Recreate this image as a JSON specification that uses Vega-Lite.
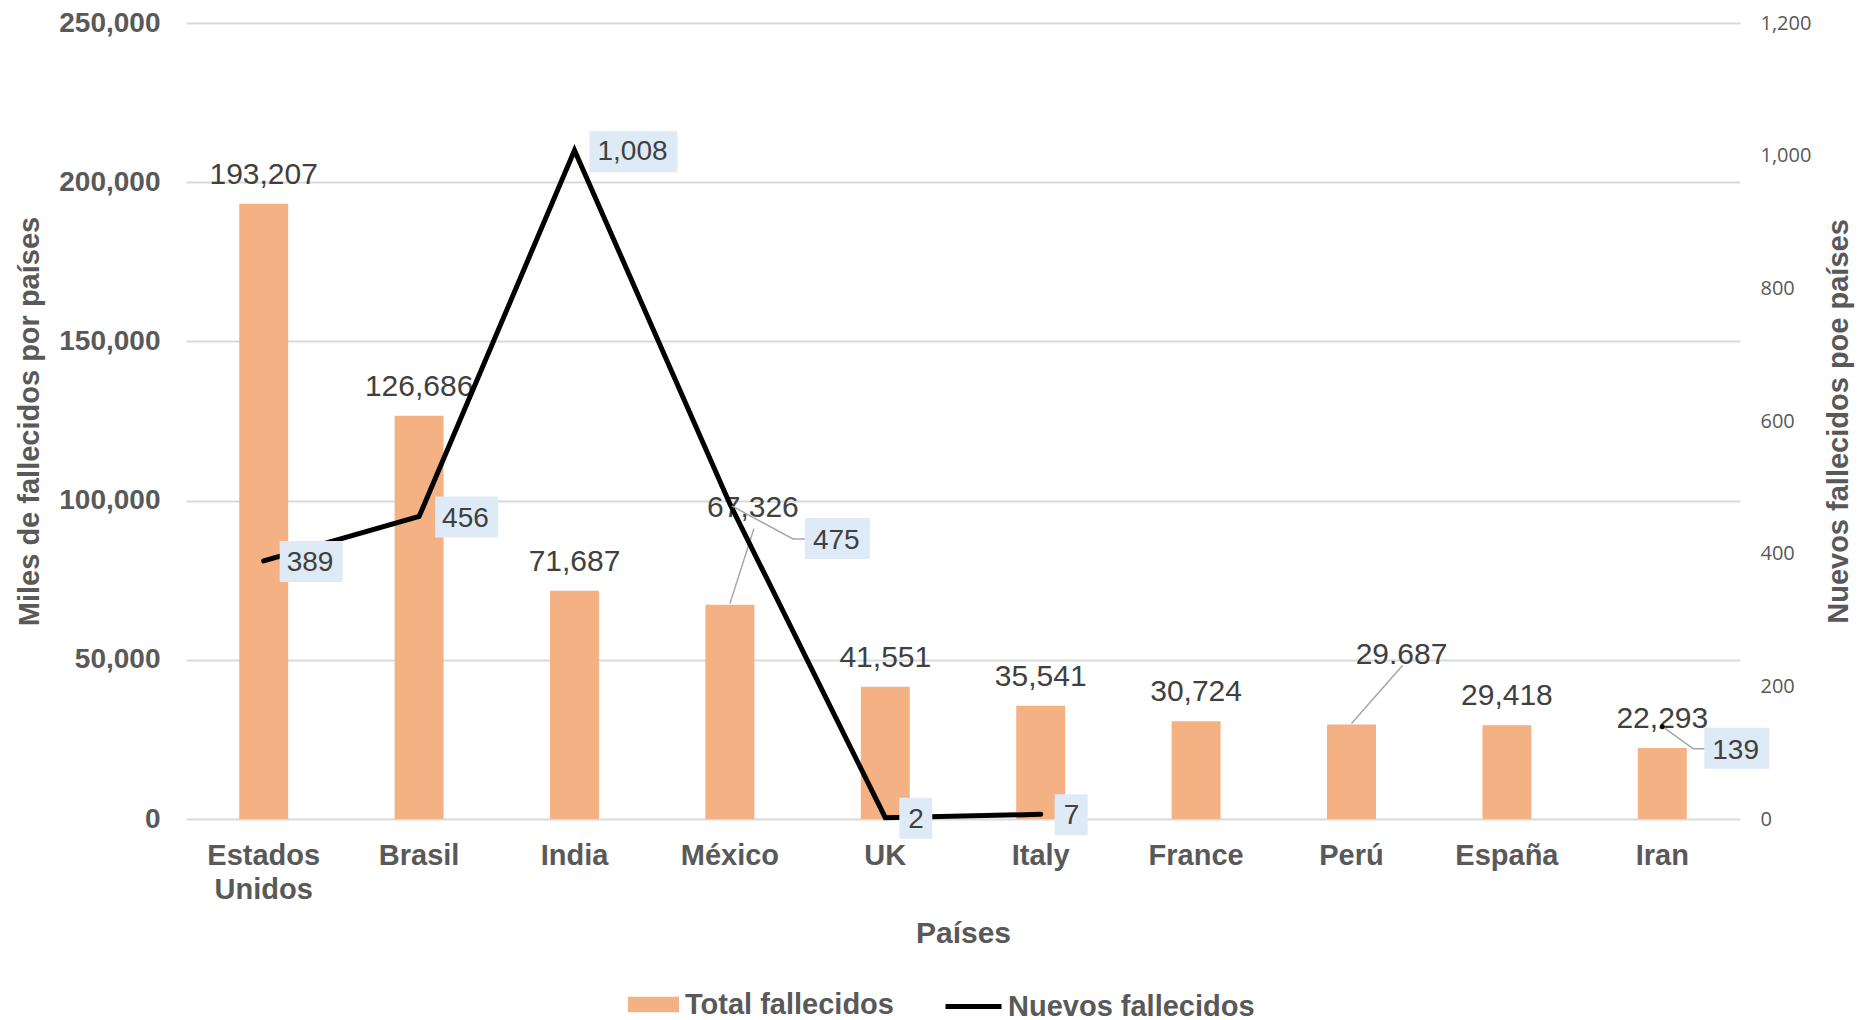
{
  "$schema": "https://vega.github.io/schema/vega-lite/v6.json",
  "width": 1554,
  "height": 796,
  "autosize": {"type": "none"},
  "padding": {"left": 186, "top": 23, "right": 122, "bottom": 201},
  "background": "white",
  "config": {"view": {"stroke": null}, "font": "Liberation Sans"},
  "data": {
    "values": [
      {"pais": "Estados Unidos", "total": 193207, "nuevos": 389, "etiqueta": "193,207"},
      {"pais": "Brasil", "total": 126686, "nuevos": 456, "etiqueta": "126,686"},
      {"pais": "India", "total": 71687, "nuevos": 1008, "etiqueta": "71,687"},
      {"pais": "México", "total": 67326, "nuevos": 475, "etiqueta": "67,326"},
      {"pais": "UK", "total": 41551, "nuevos": 2, "etiqueta": "41,551"},
      {"pais": "Italy", "total": 35541, "nuevos": 7, "etiqueta": "35,541"},
      {"pais": "France", "total": 30724, "nuevos": null, "etiqueta": "30,724"},
      {"pais": "Perú", "total": 29687, "nuevos": null, "etiqueta": "29.687"},
      {"pais": "España", "total": 29418, "nuevos": null, "etiqueta": "29,418"},
      {"pais": "Iran", "total": 22293, "nuevos": 139, "etiqueta": "22,293"}
    ]
  },
  "encoding": {
    "x": {
      "field": "pais",
      "type": "nominal",
      "sort": null,
      "scale": {"paddingInner": 0.685, "paddingOuter": 0.3425},
      "axis": {
        "labelAngle": 0,
        "labelFontSize": 29,
        "labelFontWeight": "bold",
        "labelColor": "#595959",
        "labelPadding": 22,
        "labelLineHeight": 34,
        "labelExpr": "datum.label == 'Estados Unidos' ? ['Estados', 'Unidos'] : datum.label",
        "domain": false,
        "ticks": false,
        "title": "Países",
        "titleFontSize": 30,
        "titleFontWeight": "bold",
        "titleColor": "#595959",
        "titlePadding": 14
      }
    }
  },
  "layer": [
    {
      "encoding": {
        "y": {
          "field": "total",
          "type": "quantitative",
          "scale": {"domain": [0, 250000]},
          "axis": {
            "values": [0, 50000, 100000, 150000, 200000, 250000],
            "format": ",.0f",
            "grid": true,
            "gridColor": "#D9D9D9",
            "gridWidth": 2,
            "domain": false,
            "ticks": false,
            "labelFontSize": 28,
            "labelFontWeight": "bold",
            "labelColor": "#595959",
            "labelPadding": 26,
            "title": "Miles de fallecidos por países",
            "titleFontSize": 29,
            "titleFontWeight": "bold",
            "titleColor": "#595959",
            "titlePadding": 14
          }
        }
      },
      "layer": [
        {
          "mark": {"type": "bar"},
          "encoding": {
            "fill": {
              "datum": "Total fallecidos",
              "type": "nominal",
              "scale": {"domain": ["Total fallecidos"], "range": ["#F4B183"]},
              "legend": {
                "orient": "none",
                "legendX": 442,
                "legendY": 956,
                "title": null,
                "padding": 0,
                "symbolType": "M-1,-0.3H1V0.3H-1Z",
                "symbolSize": 2601,
                "symbolStrokeWidth": 0,
                "labelFontSize": 29,
                "labelFontWeight": "bold",
                "labelColor": "#595959",
                "labelOffset": 6,
                "labelLimit": 400
              }
            }
          }
        },
        {
          "transform": [{"filter": {"field": "pais", "oneOf": ["Estados Unidos", "Brasil", "India", "UK", "Italy", "France", "España", "Iran"]}}],
          "mark": {"type": "text", "dy": -29, "fontSize": 30, "color": "#404040", "baseline": "middle", "align": "center"},
          "encoding": {"text": {"field": "etiqueta"}}
        },
        {
          "transform": [{"filter": {"field": "pais", "equal": "México"}}],
          "mark": {"type": "text", "dx": 23, "dy": -97, "fontSize": 30, "color": "#404040", "baseline": "middle", "align": "center"},
          "encoding": {"text": {"field": "etiqueta"}}
        },
        {
          "transform": [{"filter": {"field": "pais", "equal": "Perú"}}],
          "mark": {"type": "text", "dx": 50, "dy": -69, "fontSize": 30, "color": "#404040", "baseline": "middle", "align": "center"},
          "encoding": {"text": {"field": "etiqueta"}}
        },
        {
          "transform": [{"filter": {"field": "pais", "equal": "México"}}],
          "mark": {"type": "point", "shape": "M0,-1L24,-76", "size": 4, "filled": false, "stroke": "#A6A6A6", "strokeWidth": 1.5, "opacity": 1},
          "encoding": {}
        },
        {
          "transform": [{"filter": {"field": "pais", "equal": "Perú"}}],
          "mark": {"type": "point", "shape": "M0,-1L51,-59", "size": 4, "filled": false, "stroke": "#A6A6A6", "strokeWidth": 1.5, "opacity": 1},
          "encoding": {}
        }
      ]
    },
    {
      "encoding": {
        "y": {
          "field": "nuevos",
          "type": "quantitative",
          "scale": {"domain": [0, 1200]},
          "axis": {
            "orient": "right",
            "values": [0, 200, 400, 600, 800, 1000, 1200],
            "format": ",.0f",
            "grid": false,
            "domain": false,
            "ticks": false,
            "labelFont": "Open Sans",
            "labelFontSize": 20,
            "labelColor": "#595959",
            "labelPadding": 20,
            "title": "Nuevos fallecidos  poe países",
            "titleFontSize": 29,
            "titleFontWeight": "bold",
            "titleColor": "#595959",
            "titleAngle": -90,
            "titleBaseline": "top",
            "titlePadding": 14
          }
        }
      },
      "layer": [
        {
          "mark": {"type": "line", "strokeWidth": 5, "strokeCap": "round", "strokeJoin": "miter", "invalid": "break-paths-show-domains"},
          "encoding": {
            "stroke": {
              "datum": "Nuevos fallecidos",
              "type": "nominal",
              "scale": {"domain": ["Nuevos fallecidos"], "range": ["#000000"]},
              "legend": {
                "orient": "none",
                "legendX": 757,
                "legendY": 953,
                "title": null,
                "padding": 0,
                "symbolType": "stroke",
                "symbolSize": 3136,
                "symbolStrokeWidth": 5,
                "labelFontSize": 29,
                "labelFontWeight": "bold",
                "labelColor": "#595959",
                "labelOffset": 4,
                "labelLimit": 400
              }
            }
          }
        },
        {
          "transform": [{"filter": {"field": "pais", "oneOf": ["Estados Unidos", "Brasil"]}}],
          "mark": {"type": "point", "shape": "M16,-20H79V21H16Z", "size": 4, "filled": true, "fill": "#DEEBF7", "opacity": 1, "strokeWidth": 0},
          "encoding": {}
        },
        {
          "transform": [{"filter": {"field": "pais", "equal": "India"}}],
          "mark": {"type": "point", "shape": "M15,-19H103V22H15Z", "size": 4, "filled": true, "fill": "#DEEBF7", "opacity": 1, "strokeWidth": 0},
          "encoding": {}
        },
        {
          "transform": [{"filter": {"field": "pais", "oneOf": ["UK", "Italy"]}}],
          "mark": {"type": "point", "shape": "M14,-20H47V21H14Z", "size": 4, "filled": true, "fill": "#DEEBF7", "opacity": 1, "strokeWidth": 0},
          "encoding": {}
        },
        {
          "transform": [{"filter": {"field": "pais", "equal": "México"}}],
          "mark": {"type": "point", "shape": "M75,14H140V55H75Z", "size": 4, "filled": true, "fill": "#DEEBF7", "opacity": 1, "strokeWidth": 0},
          "encoding": {}
        },
        {
          "transform": [{"filter": {"field": "pais", "equal": "Iran"}}],
          "mark": {"type": "point", "shape": "M42,1H107V42H42Z", "size": 4, "filled": true, "fill": "#DEEBF7", "opacity": 1, "strokeWidth": 0},
          "encoding": {}
        },
        {
          "transform": [{"filter": {"field": "pais", "equal": "México"}}],
          "mark": {"type": "point", "shape": "M75,35H63L2,2", "size": 4, "filled": false, "stroke": "#A6A6A6", "strokeWidth": 1.5, "opacity": 1},
          "encoding": {}
        },
        {
          "transform": [{"filter": {"field": "pais", "equal": "Iran"}}],
          "mark": {"type": "point", "shape": "M42,22H31L2,1", "size": 4, "filled": false, "stroke": "#A6A6A6", "strokeWidth": 1.5, "opacity": 1},
          "encoding": {}
        },
        {
          "transform": [{"filter": {"field": "pais", "oneOf": ["Estados Unidos", "Brasil", "India", "UK", "Italy"]}}],
          "mark": {"type": "text", "dx": 23, "dy": 2, "fontSize": 28, "color": "#404040", "baseline": "middle", "align": "left"},
          "encoding": {"text": {"field": "nuevos", "type": "quantitative", "format": ","}}
        },
        {
          "transform": [{"filter": {"field": "pais", "equal": "México"}}],
          "mark": {"type": "text", "dx": 83, "dy": 37, "fontSize": 28, "color": "#404040", "baseline": "middle", "align": "left"},
          "encoding": {"text": {"field": "nuevos", "type": "quantitative", "format": ","}}
        },
        {
          "transform": [{"filter": {"field": "pais", "equal": "Iran"}}],
          "mark": {"type": "text", "dx": 50, "dy": 24, "fontSize": 28, "color": "#404040", "baseline": "middle", "align": "left"},
          "encoding": {"text": {"field": "nuevos", "type": "quantitative", "format": ","}}
        }
      ]
    }
  ],
  "resolve": {"scale": {"y": "independent"}}
}
